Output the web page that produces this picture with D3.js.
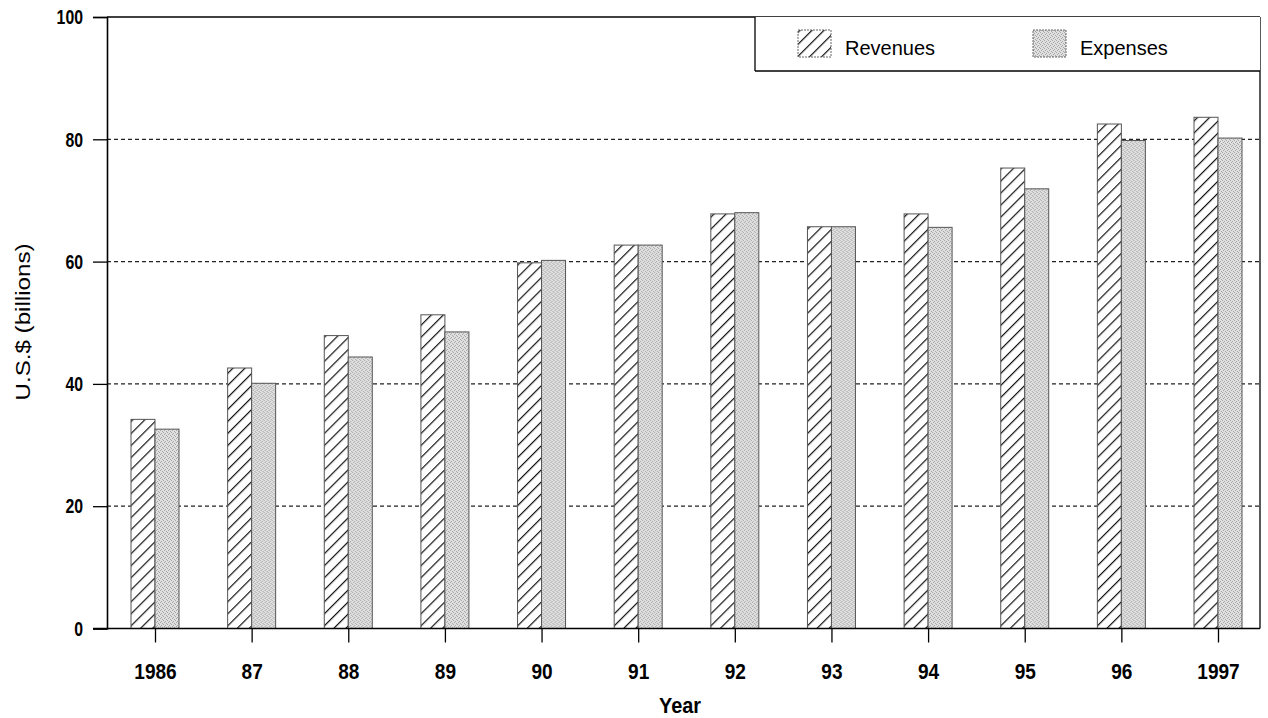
<!DOCTYPE html>
<html>
<head>
<meta charset="utf-8">
<script src="https://cdn.jsdelivr.net/npm/d3@7"></script>
<style>
  html, body { margin: 0; padding: 0; background: #fff; }
  svg { display: block; }
</style>
</head>
<body>
<svg id="chart" width="1268" height="718"></svg>
<script>
const years = ["1986","87","88","89","90","91","92","93","94","95","96","1997"];
const revenues = [34.2, 42.6, 47.9, 51.3, 59.8, 62.7, 67.8, 65.7, 67.8, 75.3, 82.5, 83.6];
const expenses = [32.6, 40.1, 44.4, 48.5, 60.2, 62.7, 68.0, 65.7, 65.6, 71.9, 79.8, 80.2];
const seriesNames = ["Revenues", "Expenses"];
const yTicks = [0, 20, 40, 60, 80, 100];

(function () {
const svg = d3.select("#chart");
const bold = "'Liberation Sans', Arial, sans-serif";
const regular = "'Liberation Sans', Arial, sans-serif";

const pLeft = 107, pRight = 1260, pTop = 17, pBottom = 628.5;

const y = d3.scaleLinear().domain([0, 100]).range([pBottom, pTop]);
const x = d3.scalePoint().domain(years).range([155, 1218]);
const inner = d3.scaleBand().domain(seriesNames).range([-24, 24]).padding(0);

// patterns
const defs = svg.append("defs");
const hatch = defs.append("pattern").attr("id", "hatch")
  .attr("patternUnits", "userSpaceOnUse").attr("width", 8.5).attr("height", 8.5)
  .attr("patternTransform", "rotate(45)");
hatch.append("rect").attr("width", 8.5).attr("height", 8.5).attr("fill", "#fff");
hatch.append("line").attr("x1", 0).attr("y1", 0).attr("x2", 0).attr("y2", 8.5)
  .attr("stroke", "#111").attr("stroke-width", 2.4);

const dots = defs.append("pattern").attr("id", "dots")
  .attr("patternUnits", "userSpaceOnUse").attr("width", 4).attr("height", 4);
dots.append("rect").attr("width", 4).attr("height", 4).attr("fill", "#e0e0e0");
[[0,0],[2,1],[1,2],[3,3]].forEach(([a,b]) => {
  dots.append("rect").attr("x", a).attr("y", b).attr("width", 1).attr("height", 1).attr("fill", "#a4a4a4");
});

const fills = { "Revenues": "url(#hatch)", "Expenses": "url(#dots)" };

// gridlines (dashed)
svg.append("g").selectAll("line").data(yTicks.filter(d => d > 0 && d < 100)).join("line")
  .attr("x1", pLeft).attr("x2", pRight)
  .attr("y1", d => y(d)).attr("y2", d => y(d))
  .attr("stroke", "#222").attr("stroke-width", 1.2).attr("stroke-dasharray", "4,3");

// bars
const data = years.map((yr, i) => ({ year: yr, values: [
  { key: "Revenues", value: revenues[i] },
  { key: "Expenses", value: expenses[i] }
]}));

const groups = svg.append("g").selectAll("g").data(data).join("g")
  .attr("transform", d => `translate(${x(d.year)},0)`);
groups.selectAll("rect").data(d => d.values).join("rect")
  .attr("x", d => inner(d.key))
  .attr("width", inner.bandwidth())
  .attr("y", d => y(d.value))
  .attr("height", d => y(0) - y(d.value))
  .attr("fill", d => fills[d.key])
  .attr("stroke", "#555").attr("stroke-width", 1);

// frame
svg.append("line").attr("x1", pLeft).attr("x2", pRight).attr("y1", pTop).attr("y2", pTop)
  .attr("stroke", "#000").attr("stroke-width", 1.3);
svg.append("line").attr("x1", pRight).attr("x2", pRight).attr("y1", pTop).attr("y2", pBottom)
  .attr("stroke", "#000").attr("stroke-width", 1.3);

// y axis
const yAxis = d3.axisLeft(y).tickValues(yTicks).tickSize(14).tickPadding(10);
const gy = svg.append("g").attr("transform", `translate(${pLeft},0)`).call(yAxis);
gy.select(".domain").attr("stroke", "#000").attr("stroke-width", 1.6);
gy.selectAll(".tick line").attr("stroke", "#000").attr("stroke-width", 1.3);
gy.selectAll(".tick text").attr("font-family", bold).attr("font-weight", "bold")
  .attr("font-size", 21).attr("fill", "#000")
  .attr("textLength", d => String(d).length * 8.8).attr("lengthAdjust", "spacingAndGlyphs");

// x axis
const xAxis = d3.axisBottom(x).tickSize(14).tickPadding(21);
const gx = svg.append("g").attr("transform", `translate(0,${pBottom})`).call(xAxis);
gx.select(".domain").attr("d", `M${pLeft - 14},0H${pRight}`).attr("stroke", "#000").attr("stroke-width", 1.6);
gx.selectAll(".tick line").attr("stroke", "#000").attr("stroke-width", 1.3);
gx.selectAll(".tick text").attr("font-family", bold).attr("font-weight", "bold")
  .attr("font-size", 22).attr("fill", "#000")
  .attr("textLength", d => String(d).length * 10.6).attr("lengthAdjust", "spacingAndGlyphs");

// axis titles
svg.append("text").attr("x", 680).attr("y", 713).attr("text-anchor", "middle")
  .attr("font-family", bold).attr("font-weight", "bold").attr("font-size", 22)
  .attr("textLength", 42).attr("lengthAdjust", "spacingAndGlyphs")
  .text("Year");
svg.append("text").attr("transform", "translate(30,322) rotate(-90)")
  .attr("text-anchor", "middle").attr("font-family", regular).attr("font-size", 21)
  .attr("textLength", 157).attr("lengthAdjust", "spacingAndGlyphs")
  .text("U.S.$ (billions)");

// legend
const lg = svg.append("g");
lg.append("rect").attr("x", 755).attr("y", pTop).attr("width", pRight - 755).attr("height", 54)
  .attr("fill", "#fff").attr("stroke", "none");
lg.append("line").attr("x1", 755).attr("x2", 755).attr("y1", pTop).attr("y2", 71)
  .attr("stroke", "#000").attr("stroke-width", 1.3);
lg.append("line").attr("x1", 755).attr("x2", pRight).attr("y1", 71).attr("y2", 71)
  .attr("stroke", "#000").attr("stroke-width", 1.3);
const legendPos = [{ key: "Revenues", sx: 798, tx: 845 }, { key: "Expenses", sx: 1033, tx: 1080 }];
const li = lg.selectAll("g.item").data(legendPos).join("g").attr("class", "item");
li.append("rect").attr("x", d => d.sx).attr("y", 30).attr("width", 33).attr("height", 27)
  .attr("fill", d => fills[d.key]).attr("stroke", "#666").attr("stroke-width", 1)
  .attr("stroke-dasharray", "2,1");
li.append("text").attr("x", d => d.tx).attr("y", 55)
  .attr("font-family", regular).attr("font-size", 20).attr("fill", "#000")
  .text(d => d.key);
})();
</script>
</body>
</html>
